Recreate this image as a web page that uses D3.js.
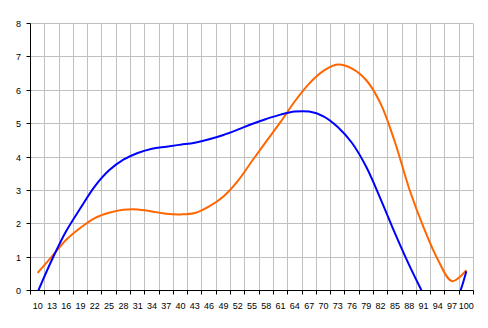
<!DOCTYPE html>
<html><head><meta charset="utf-8">
<script src="https://cdn.jsdelivr.net/npm/d3@7"></script>
<style>
html,body{margin:0;padding:0;background:#fff;}
svg{display:block;}
text{font-family:"Liberation Sans",Arial,sans-serif;font-size:9px;fill:#000;}
</style></head>
<body><svg id="c" width="488" height="328"></svg>
<script>
const categories = [10,13,16,19,22,25,28,31,34,37,40,43,46,49,52,55,58,61,64,67,70,73,76,79,82,85,88,91,94,97,100];
const blueValues = [-0.05,0.92,1.78,2.47,3.12,3.6,3.92,4.12,4.25,4.31,4.37,4.43,4.53,4.66,4.82,4.99,5.14,5.27,5.36,5.36,5.22,4.9,4.42,3.7,2.74,1.72,0.76,-0.12,-1.0,-0.6,0.58];
const orangeValues = [0.53,1.02,1.52,1.88,2.17,2.33,2.42,2.43,2.37,2.3,2.28,2.32,2.52,2.82,3.28,3.88,4.47,5.05,5.67,6.2,6.58,6.77,6.65,6.3,5.6,4.45,3.05,1.9,0.93,0.28,0.61];
const yTicks = [0,1,2,3,4,5,6,7,8];

(function () {
const svg = d3.select("#c");
const pL = 30.5, pR = 473.5, pT = 23.5, pB = 290.5;
const x = d3.scaleBand().domain(categories).range([pL, pR]).padding(0);
const bw = x.bandwidth();
const y = d3.scaleLinear().domain([0, 8]).range([pB, pT]);
const cx = c => x(c) + bw / 2;
const snap = v => Math.round(v - 0.5) + 0.5;

// gridlines
const g = svg.append("g");
g.selectAll(".hg").data(yTicks.filter(t => t > 0)).join("line")
  .attr("x1", pL).attr("x2", pR - 0.5)
  .attr("y1", d => snap(y(d))).attr("y2", d => snap(y(d)))
  .attr("stroke", "#c0c0c0").attr("stroke-width", 1);
const bounds = categories.map(c => x(c) + bw);
g.selectAll(".vg").data(bounds).join("line")
  .attr("x1", d => snap(d)).attr("x2", d => snap(d))
  .attr("y1", pT).attr("y2", pB)
  .attr("stroke", "#c0c0c0").attr("stroke-width", 1);

// clip
svg.append("clipPath").attr("id", "clip").append("rect")
  .attr("x", pL).attr("y", pT - 2).attr("width", pR - pL + 2).attr("height", pB - pT + 2);

const line = d3.line().x((d, i) => cx(categories[i])).y(d => y(d)).curve(d3.curveCatmullRom.alpha(0.5));
const lg = svg.append("g").attr("clip-path", "url(#clip)");
lg.append("path").datum(orangeValues).attr("d", line)
  .attr("fill", "none").attr("stroke", "#ff6600").attr("stroke-width", 2);
lg.append("path").datum(blueValues).attr("d", line)
  .attr("fill", "none").attr("stroke", "#0000ff").attr("stroke-width", 2);

// axes
const ax = svg.append("g");
ax.append("line").attr("x1", pL).attr("x2", pL).attr("y1", pT).attr("y2", pB + 0.5)
  .attr("stroke", "#000");
ax.append("line").attr("x1", pL).attr("x2", pR).attr("y1", pB).attr("y2", pB)
  .attr("stroke", "#000");
ax.selectAll(".yt").data(yTicks).join("line")
  .attr("x1", pL - 4).attr("x2", pL)
  .attr("y1", d => snap(y(d))).attr("y2", d => snap(y(d))).attr("stroke", "#000");
ax.selectAll(".ytl").data(yTicks).join("text")
  .attr("x", 21).attr("y", d => snap(y(d)) + 3.5).attr("text-anchor", "end").text(d => d);
const tickPos = [pL].concat(categories.map(c => x(c) + bw));
ax.selectAll(".xt").data(tickPos).join("line")
  .attr("x1", d => snap(d)).attr("x2", d => snap(d))
  .attr("y1", pB).attr("y2", pB + 4).attr("stroke", "#000");
ax.selectAll(".xtl").data(categories).join("text")
  .attr("x", d => cx(d)).attr("y", 308.5).attr("text-anchor", "middle").text(d => d);
})();
</script></body></html>
